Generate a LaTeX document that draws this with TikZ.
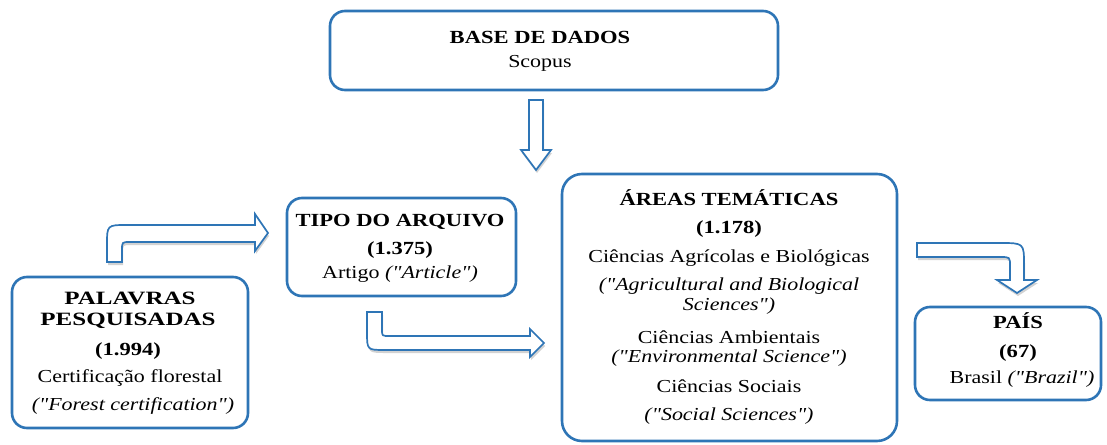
\documentclass[tikz,border=0pt]{standalone}
\usepackage{fontspec}
\setmainfont{Liberation Serif}[FakeStretch=1.2, Ligatures=TeXOff]
\newfontfamily\hb{Liberation Serif}[FakeStretch=1.22, Ligatures=TeXOff]
\newfontfamily\hbw{Liberation Serif}[FakeStretch=1.33, Ligatures=TeXOff]
\usetikzlibrary{shadows}
\definecolor{bl}{HTML}{2E75B6}
\tikzset{
  box/.style={draw=bl, line width=2.6pt, rounded corners=15pt, fill=white, inner sep=0pt},
  txt/.style={anchor=base, inner sep=0pt, font=\fontsize{18.3}{21}\selectfont},
  hd/.style={anchor=base, inner sep=0pt, font=\fontsize{18.5}{21}\selectfont\hb\bfseries},
  hdw/.style={anchor=base, inner sep=0pt, font=\fontsize{18.8}{21}\selectfont\hbw\bfseries},
  barrow/.style={draw=bl, line width=1.7pt, fill=white, line join=miter,
    drop shadow={shadow xshift=1pt, shadow yshift=-3pt, opacity=0.25, fill=black!70}},
}
\begin{document}
\begin{tikzpicture}[x=1pt, y=-1pt]
\useasboundingbox (0,0) rectangle (1107,444);

% boxes
\node[box, minimum width=448pt, minimum height=79pt] (base) at (554,50.5) {};
\node[box, minimum width=229pt, minimum height=98pt] (tipo) at (401.5,247) {};
\node[box, rounded corners=20pt, minimum width=335pt, minimum height=267pt] (areas) at (729.5,307.5) {};
\node[box, minimum width=236pt, minimum height=151pt] (pal) at (130,352.5) {};
\node[box, minimum width=186pt, minimum height=93pt] (pais) at (1008,353.5) {};

% block arrows
\draw[barrow] (529,100) -- (543,100) -- (543,150) -- (551,150) -- (536,170) -- (521,150) -- (529,150) -- cycle;
\draw[barrow] (107,262) -- (107,245) .. controls (107,225) .. (127,225) -- (255,225) -- (255,214)
  -- (268,233) -- (255,251) -- (255,242) -- (130,242) .. controls (122,242) .. (122,250) -- (122,262) -- cycle;
\draw[barrow] (367,312) -- (382,312) -- (382,330) .. controls (382,336) .. (390,336) -- (530,336) -- (530,329)
  -- (544,343) -- (530,357) -- (530,350) -- (385,350) .. controls (367,350) .. (367,332) -- cycle;
\draw[barrow] (917,243) -- (1000,243) .. controls (1024,243) .. (1024,265) -- (1024,280) -- (1037,280)
  -- (1017,293) -- (997,280) -- (1010,280) -- (1010,266) .. controls (1010,257) .. (1000,257) -- (917,257) -- cycle;

% texts
\node[hd] (b1) at (540,44) {BASE DE DADOS};
\node[txt] (b2) at (540,67) {Scopus};

\node[hd] (t1) at (400,226.5) {TIPO DO ARQUIVO};
\node[hd] (t2) at (400,254) {(1.375)};
\node[txt] (t3) at (400,278) {Artigo \textit{("Article")}};

\node[hd] (a1) at (729,205) {ÁREAS TEMÁTICAS};
\node[hd] (a2) at (729,233) {(1.178)};
\node[txt] (a3) at (729,262) {Ciências Agrícolas e Biológicas};
\node[txt] (a4) at (729,290) {\textit{("Agricultural and Biological}};
\node[txt] (a5) at (729,310) {\textit{Sciences")}};
\node[txt] (a6) at (729,343) {Ciências Ambientais};
\node[txt] (a7) at (729,362) {\textit{("Environmental Science")}};
\node[txt] (a8) at (729,392) {Ciências Sociais};
\node[txt] (a9) at (729,420) {\textit{("Social Sciences")}};

\node[hdw] (p1) at (130,304) {PALAVRAS};
\node[hdw] (p2) at (128,325) {PESQUISADAS};
\node[hd] (p3) at (128,355) {(1.994)};
\node[txt] (p4) at (130,382) {Certificação florestal};
\node[txt] (p5) at (133,410) {\textit{("Forest certification")}};

\node[hd] (c1) at (1018,328) {PAÍS};
\node[hd] (c2) at (1018,357) {(67)};
\node[txt] (c3) at (1022,383) {Brasil \textit{("Brazil")}};
\end{tikzpicture}
\end{document}
